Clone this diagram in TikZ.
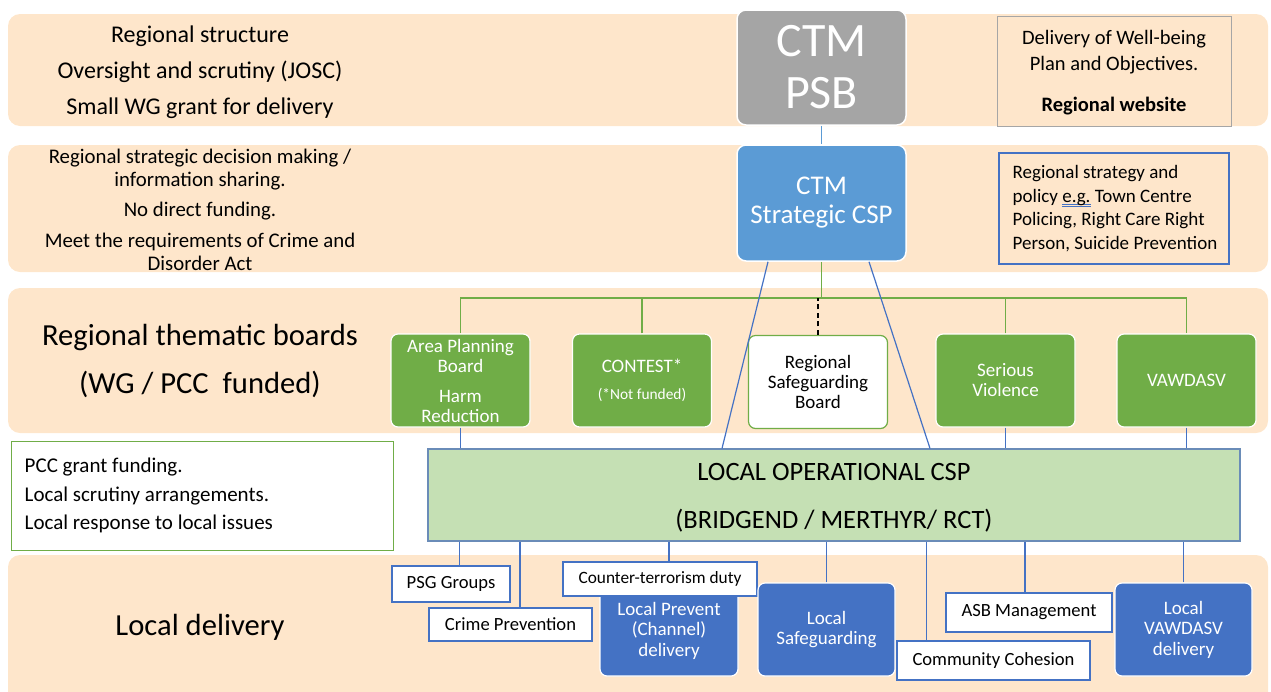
\documentclass[tikz,border=0pt]{standalone}
\usepackage{fontspec}
\setmainfont{Carlito}
\usetikzlibrary{calc}
\definecolor{peach}{HTML}{FEE6CB}
\definecolor{psbgray}{HTML}{A5A5A5}
\definecolor{lblue}{HTML}{5B9BD5}
\definecolor{dblue}{HTML}{4472C4}
\definecolor{mgreen}{HTML}{70AD47}
\definecolor{lgreen}{HTML}{C5E0B4}
\definecolor{locbd}{HTML}{6A8CB8}
\definecolor{graybd}{HTML}{A6A6A6}
\newcommand\dblul[1]{\setbox0\hbox{#1}\rlap{\color{dblue}\rule[-2.4pt]{\wd0}{0.6pt}}\rlap{\color{dblue}\rule[-4.2pt]{\wd0}{0.6pt}}\box0\relax}
\tikzset{
  band/.style={fill=peach, rounded corners=12pt},
  bigbox/.style={rectangle, rounded corners=9pt, draw=white, line width=1.5pt, text=white, align=center, inner sep=0pt, minimum width=169pt},
  gbox/.style={rectangle, rounded corners=7pt, fill=mgreen, draw=white, line width=1.2pt, text=white, align=center, inner sep=0pt, minimum width=139pt, minimum height=93pt, font=\fontsize{19}{20}\selectfont},
  bbox/.style={rectangle, rounded corners=7pt, fill=dblue, draw=white, line width=1.2pt, text=white, align=center, inner sep=0pt, minimum width=138pt, minimum height=93pt, font=\fontsize{19}{20.5}\selectfont},
  sbox/.style={rectangle, draw=dblue, line width=1.4pt, fill=white, inner sep=0pt, font=\fontsize{18.6}{20}\selectfont},
  gline/.style={draw=mgreen, line width=1.8pt},
  bline/.style={draw=dblue, line width=1.2pt},
  lbline/.style={draw=lblue, line width=1.8pt},
}
\begin{document}
\begin{tikzpicture}[x=1pt,y=-1pt]
\useasboundingbox (0,0) rectangle (1271,691);
% bands
\fill[band] (8,14) rectangle (1268,126);
\fill[band] (8,145) rectangle (1268,272);
\fill[band] (8,288) rectangle (1268,433);
\fill[band] (8,555) rectangle (1268,710);

% left band texts
\node[font=\fontsize{24}{36}\selectfont, align=center] (t1) at (200,72) {Regional structure\\Oversight and scrutiny (JOSC)\\Small WG grant for delivery};
\node[font=\fontsize{20.8}{22.5}\selectfont, align=center] (t2) at (200,210) {Regional strategic decision making /\\information sharing.\\[7.5pt]No direct funding.\\[9pt]Meet the requirements of Crime and\\Disorder Act};
\node[font=\fontsize{30.6}{48}\selectfont, align=center] (t3) at (200,361) {Regional thematic boards\\(WG / PCC\ \ funded)};
\node[font=\fontsize{30.6}{32}\selectfont] (t4) at (200,627) {Local delivery};

% top nodes
\node[bigbox, fill=psbgray, minimum height=115pt, font=\fontsize{48}{52}\selectfont] (psb) at (821.5,67.5) {CTM\\PSB};
\node[bigbox, fill=lblue, minimum height=116pt, font=\fontsize{27}{29}\selectfont] (csp) at (821.5,203) {CTM\\Strategic CSP};

% right notes
\node[draw=graybd, line width=0.9pt, minimum width=234pt, minimum height=110pt, inner sep=0pt] (wb) at (1114,71) {};
\node[align=center, font=\fontsize{20.5}{26}\selectfont] (wbt) at (1114,73) {Delivery of Well-being\\Plan and Objectives.\\[15pt]\textbf{Regional website}};
\node[draw=dblue, line width=1.1pt, minimum width=230pt, minimum height=111pt, inner sep=0pt] (rs) at (1114,208.5) {};
\node[anchor=west, inner sep=0pt, align=flush left, font=\fontsize{19}{23.5}\selectfont] (rst) at ([xshift=14pt]rs.west) {Regional strategy and\\policy \dblul{e.g.} Town Centre\\Policing, Right Care Right\\Person, Suicide Prevention};

% thematic boards
\node[gbox] (apb) at (460.5,380.5) {Area Planning\\Board\\[10pt]Harm\\Reduction};
\node[gbox] (con) at (642,380.5) {CONTEST*\\[7pt]{\fontsize{15.4}{16}\selectfont(*Not funded)}};
\node[gbox, fill=white, draw=mgreen, text=black] (rsb) at (818,382) {Regional\\Safeguarding\\Board};
\node[gbox] (ser) at (1005.5,380.5) {Serious\\Violence};
\node[gbox] (vaw) at (1186.5,380.5) {VAWDASV};

% local operational CSP
\node[rectangle, fill=lgreen, draw=locbd, line width=1.1pt, minimum width=812pt, minimum height=92pt, inner sep=0pt] (loc) at (834,495) {};
\node[align=center, font=\fontsize{26.5}{48}\selectfont] (loct) at (834,498) {LOCAL OPERATIONAL CSP\\(BRIDGEND / MERTHYR/ RCT)};

% info box
\node[draw=mgreen, fill=white, line width=1pt, minimum width=382pt, minimum height=109pt, inner sep=0pt] (info) at (202,495.5) {};
\node[anchor=west, inner sep=0pt, align=flush left, font=\fontsize{21}{28.5}\selectfont] (infot) at ([xshift=14pt]info.west) {PCC grant funding.\\Local scrutiny arrangements.\\Local response to local issues};

% local delivery
\node[bbox, minimum height=91pt] (lpr) at (669,630.5) {Local Prevent\\(Channel)\\delivery};
\node[sbox, minimum width=194pt, minimum height=34pt, font=\fontsize{17.3}{19}\selectfont] (ctd) at (660,579) {Counter-terrorism duty};
\node[sbox, minimum width=118pt, minimum height=36pt] (psg) at (451,584) {PSG Groups};
\node[sbox, minimum width=163pt, minimum height=33pt] (crp) at (510.5,624.5) {Crime Prevention};
\node[bbox, minimum width=137pt] (lsg) at (826.5,629.5) {Local\\Safeguarding};
\node[sbox, minimum width=166pt, minimum height=39pt] (asb) at (1029,612.5) {ASB Management};
\node[sbox, minimum width=193pt, minimum height=39pt] (com) at (993.5,660.5) {Community Cohesion};
\node[bbox, minimum width=137pt] (lva) at (1183.5,629.5) {Local\\VAWDASV\\delivery};

% connectors
\draw[lbline] (psb) -- (csp);
\coordinate (hub) at (821.5,298);
\draw[gline] (csp.south) -- (hub);
\draw[gline] (apb.north) |- (hub) -| (vaw.north);
\draw[gline] (con.north) -- (con.north |- hub);
\draw[gline] (ser.north) -- (ser.north |- hub);
\draw[black, line width=1.5pt, dash pattern=on 5pt off 3.5pt] (rsb.north) -- (rsb.north |- hub);

\draw[bline] ([xshift=-53.5pt]csp.south) -- ([xshift=-112pt]loc.north);
\draw[bline] ([xshift=47.5pt]csp.south) -- ([xshift=96pt]loc.north);

\draw[bline] (apb.south) -- (apb.south |- loc.north);
\draw[bline] (ser.south) -- (ser.south |- loc.north);
\draw[bline] (vaw.south) -- (vaw.south |- loc.north);

\coordinate (psgtop) at ([xshift=8.5pt]psg.north);
\coordinate (crptop) at ([xshift=9.5pt]crp.north);
\coordinate (ctdtop) at ([xshift=9pt]ctd.north);
\coordinate (asbtop) at ([xshift=-4pt]asb.north);
\coordinate (comtop) at ([xshift=-67pt]com.north);
\draw[bline] (psgtop) -- (psgtop |- loc.south);
\draw[bline] (crptop) -- (crptop |- loc.south);
\draw[bline] (ctdtop) -- (ctdtop |- loc.south);
\draw[bline] (lsg.north) -- (lsg.north |- loc.south);
\draw[bline] (asbtop) -- (asbtop |- loc.south);
\draw[bline] (comtop) -- (comtop |- loc.south);
\draw[bline] (lva.north) -- (lva.north |- loc.south);
\end{tikzpicture}
\end{document}
